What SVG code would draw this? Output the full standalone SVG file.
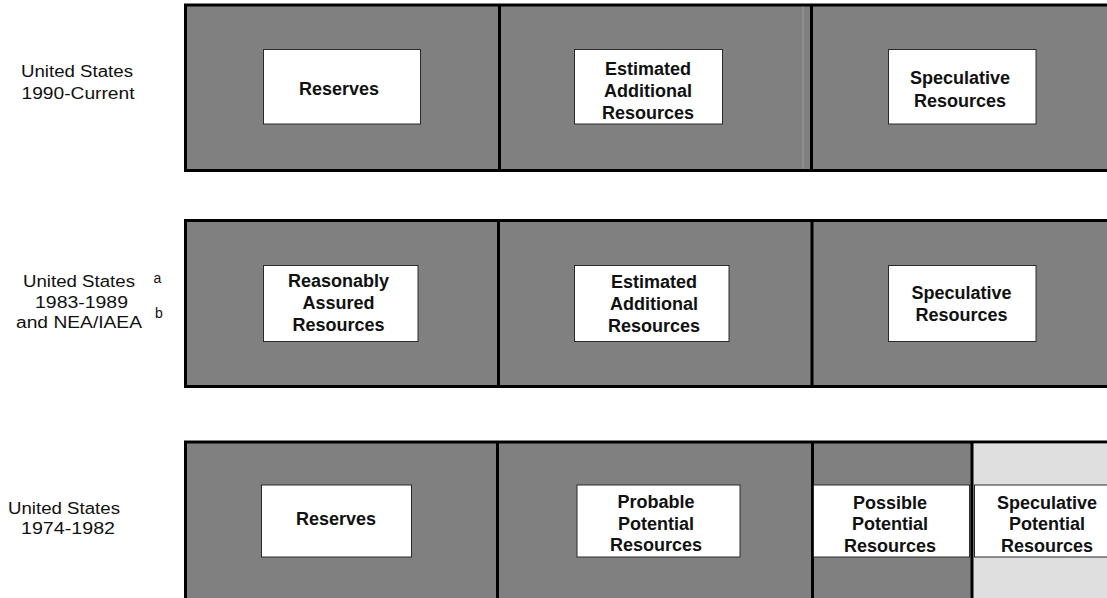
<svg xmlns="http://www.w3.org/2000/svg" width="1107" height="598" viewBox="0 0 1107 598">
<style>
.band{fill:#808080;stroke:#000;stroke-width:3}
.light{fill:#dfdfdf}
.div{stroke:#000;stroke-width:3}
.box{fill:#fff;stroke:#2a2a2a;stroke-width:1}
.t{font-family:"Liberation Sans",Arial,sans-serif;font-size:18px;font-weight:bold;fill:#111;text-anchor:middle}
.lab{font-family:"Liberation Sans",Arial,sans-serif;font-size:16px;fill:#111;text-anchor:middle}
.sup{font-family:"Liberation Sans",Arial,sans-serif;font-size:14px;fill:#111;text-anchor:middle}
</style>
<rect width="1107" height="598" fill="#fff"/>

<!-- Row 1 -->
<g id="row1">
  <rect class="band" x="185.5" y="5" width="940" height="165.5"/>
  <line x1="803" y1="6.5" x2="803" y2="169" stroke="#9a9a9a" stroke-width="1"/>
  <line class="div" x1="499.5" y1="5" x2="499.5" y2="170.5"/>
  <line class="div" x1="811.5" y1="5" x2="811.5" y2="170.5"/>
  <g id="label-1990">
    <text class="lab" x="77" y="77" textLength="112" lengthAdjust="spacingAndGlyphs">United States</text>
    <text class="lab" x="78" y="98.5" textLength="113" lengthAdjust="spacingAndGlyphs">1990-Current</text>
  </g>
  <g id="r1-reserves">
    <rect class="box" x="263.5" y="49.5" width="157" height="74.5"/>
    <text class="t" x="339" y="95">Reserves</text>
  </g>
  <g id="r1-ear">
    <rect class="box" x="574.5" y="49.5" width="148" height="74.5"/>
    <text class="t" x="648" y="75">Estimated</text>
    <text class="t" x="648" y="97">Additional</text>
    <text class="t" x="648" y="119">Resources</text>
  </g>
  <g id="r1-spec">
    <rect class="box" x="888.5" y="49.5" width="147.5" height="74.5"/>
    <text class="t" x="960" y="84">Speculative</text>
    <text class="t" x="960" y="107">Resources</text>
  </g>
</g>

<!-- Row 2 -->
<g id="row2">
  <rect class="band" x="185.5" y="220.5" width="940" height="166"/>
  <line class="div" x1="498.5" y1="220.5" x2="498.5" y2="386.5"/>
  <line class="div" x1="812" y1="220.5" x2="812" y2="386.5"/>
  <g id="label-1983">
    <text class="lab" x="79" y="287" textLength="112" lengthAdjust="spacingAndGlyphs">United States</text>
    <text class="lab" x="81.5" y="307.5" textLength="93" lengthAdjust="spacingAndGlyphs">1983-1989</text>
    <text class="lab" x="79" y="328" textLength="126" lengthAdjust="spacingAndGlyphs">and NEA/IAEA</text>
    <text class="sup" x="157.5" y="283">a</text>
    <text class="sup" x="159" y="318">b</text>
  </g>
  <g id="r2-rar">
    <rect class="box" x="263.5" y="265.5" width="154.5" height="76"/>
    <text class="t" x="338.5" y="287">Reasonably</text>
    <text class="t" x="338.5" y="309">Assured</text>
    <text class="t" x="338.5" y="331">Resources</text>
  </g>
  <g id="r2-ear">
    <rect class="box" x="574.5" y="265.5" width="154.5" height="76"/>
    <text class="t" x="654" y="288">Estimated</text>
    <text class="t" x="654" y="310">Additional</text>
    <text class="t" x="654" y="332">Resources</text>
  </g>
  <g id="r2-spec">
    <rect class="box" x="888.5" y="265.5" width="147.5" height="76"/>
    <text class="t" x="961.5" y="298.5">Speculative</text>
    <text class="t" x="961.5" y="321">Resources</text>
  </g>
</g>

<!-- Row 3 -->
<g id="row3">
  <rect class="band" x="185.5" y="442" width="940" height="170"/>
  <rect class="light" x="972" y="443.5" width="150" height="170"/>
  <line class="div" x1="497.5" y1="442" x2="497.5" y2="600"/>
  <line class="div" x1="812.5" y1="442" x2="812.5" y2="600"/>
  <line class="div" x1="972" y1="442" x2="972" y2="600"/>
  <g id="label-1974">
    <text class="lab" x="64" y="513.5" textLength="112" lengthAdjust="spacingAndGlyphs">United States</text>
    <text class="lab" x="68" y="533.5" textLength="94" lengthAdjust="spacingAndGlyphs">1974-1982</text>
  </g>
  <g id="r3-reserves">
    <rect class="box" x="261.5" y="485" width="150" height="72"/>
    <text class="t" x="336" y="525">Reserves</text>
  </g>
  <g id="r3-probable">
    <rect class="box" x="577" y="485" width="163" height="72"/>
    <text class="t" x="656" y="507.5">Probable</text>
    <text class="t" x="656" y="529.5">Potential</text>
    <text class="t" x="656" y="551">Resources</text>
  </g>
  <g id="r3-possible">
    <rect class="box" x="813.5" y="485" width="156" height="72"/>
    <text class="t" x="890" y="508.5">Possible</text>
    <text class="t" x="890" y="530">Potential</text>
    <text class="t" x="890" y="551.5">Resources</text>
  </g>
  <g id="r3-speculative">
    <rect class="box" x="974.5" y="485" width="140" height="72"/>
    <text class="t" x="1047" y="508.5">Speculative</text>
    <text class="t" x="1047" y="530">Potential</text>
    <text class="t" x="1047" y="551.5">Resources</text>
  </g>
</g>
</svg>
